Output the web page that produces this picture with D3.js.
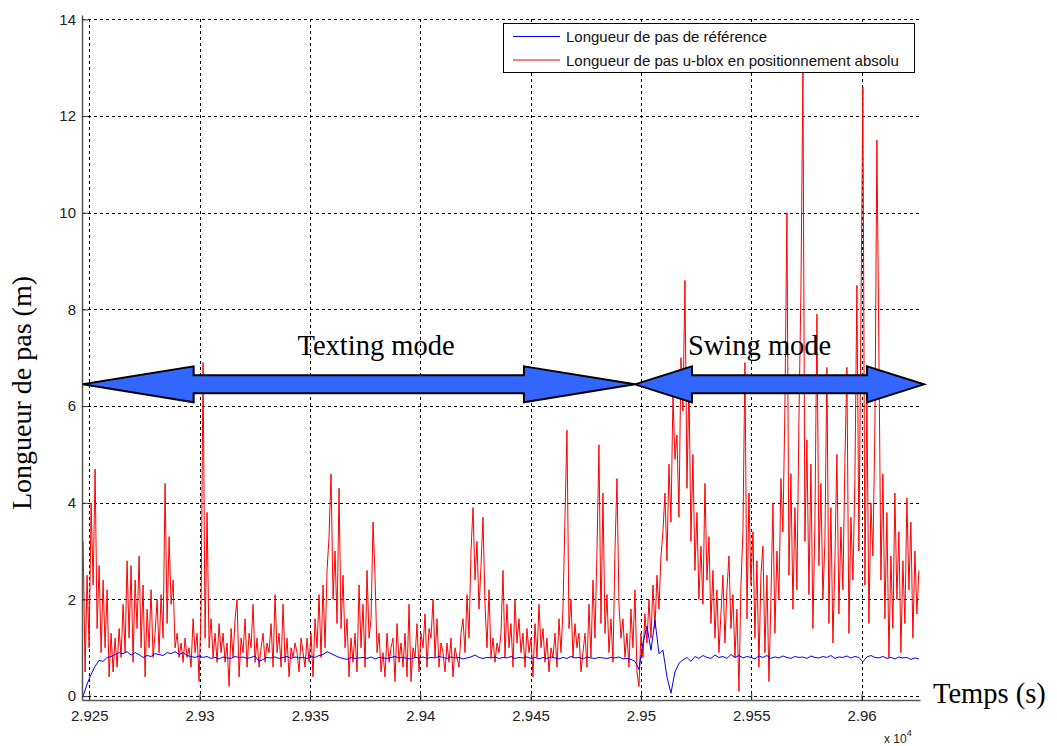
<!DOCTYPE html>
<html><head><meta charset="utf-8">
<script src="https://cdn.jsdelivr.net/npm/d3@7"></script>
<style>body{margin:0;background:#fff}</style>
</head><body><svg id="c" width="1057" height="746"></svg>
<script>
// ---- data (time in units of 10^4 s) ----
const xTicks = [2.925, 2.93, 2.935, 2.94, 2.945, 2.95, 2.955, 2.96];
const xTickLabels = ["2.925", "2.93", "2.935", "2.94", "2.945", "2.95", "2.955", "2.96"];
const yTicks = [0, 2, 4, 6, 8, 10, 12, 14];
const seriesNames = ["Longueur de pas de référence", "Longueur de pas u-blox en positionnement absolu"];

const redStart = 2.92472, redEnd = 2.96260;
const redValues = [
  3.2,0.5,2.5,1.0,4.0,2.3,4.7,1.4,2.7,0.9,
  2.4,1.0,2.2,0.4,1.3,0.5,1.2,0.6,1.4,0.8,
  1.9,0.9,2.8,1.2,2.7,0.7,2.4,1.4,2.9,1.0,
  2.3,0.4,1.8,1.0,2.2,0.8,1.3,2.0,0.9,2.1,
  1.2,4.4,1.5,3.3,1.9,2.4,1.0,1.3,0.8,1.1,
  0.7,1.2,0.8,1.0,0.6,1.6,0.9,1.3,0.3,1.8,
  6.9,1.2,3.8,1.0,1.6,0.8,1.3,0.7,1.5,0.9,
  1.3,0.7,1.1,0.2,1.4,0.8,1.6,2.0,0.4,1.2,
  0.9,1.6,0.6,1.3,1.0,1.9,0.7,1.2,0.6,1.0,
  1.3,0.7,1.1,0.9,1.5,0.6,2.1,0.9,1.3,0.6,
  1.9,0.7,1.2,0.4,1.0,0.8,1.1,0.9,0.5,1.2,
  0.9,0.6,1.2,0.7,1.3,0.4,1.6,1.0,2.1,0.8,
  2.3,1.0,2.6,3.3,4.6,2.0,3.0,1.5,4.3,1.4,
  2.5,1.0,1.6,0.4,1.2,0.7,1.3,0.5,2.3,1.0,
  1.9,0.6,2.6,1.2,1.6,3.6,2.5,0.9,1.3,0.5,
  0.9,0.4,1.3,0.7,1.0,1.2,0.3,1.5,0.7,1.1,
  0.6,1.3,0.4,1.9,0.3,1.0,0.8,1.5,0.5,1.3,
  1.0,1.7,0.6,1.4,1.2,2.0,0.8,1.6,0.6,1.1,
  0.9,0.5,1.1,0.7,1.2,0.4,1.0,0.8,0.6,1.3,
  1.6,0.9,2.1,1.2,3.0,3.9,2.4,3.2,1.8,2.7,
  3.7,1.9,1.0,2.2,0.8,1.2,0.7,1.1,0.9,1.3,
  2.6,0.8,1.9,1.0,1.5,0.6,2.0,1.1,1.6,0.9,
  1.3,0.6,1.4,0.9,1.2,0.4,1.5,0.8,1.9,1.0,
  1.4,0.7,1.2,0.5,1.0,0.8,1.3,0.6,1.6,0.9,
  1.8,3.7,5.5,1.4,2.0,0.8,1.5,1.0,1.3,0.5,
  0.9,1.3,0.6,1.9,0.8,2.4,1.2,3.0,5.2,1.5,
  4.2,1.3,2.1,0.9,1.6,0.7,3.0,4.5,1.9,1.2,
  1.6,0.8,1.3,0.6,1.8,1.0,2.2,0.5,0.2,1.3,
  0.8,1.7,1.1,2.0,1.2,2.3,1.4,2.5,1.8,2.9,
  3.4,4.2,2.8,4.8,3.6,6.2,4.9,5.4,3.7,7.0,
  5.9,8.6,4.3,6.5,3.2,5.0,2.6,3.8,2.0,3.1,
  1.9,4.4,2.4,3.3,1.5,2.6,1.2,2.2,0.9,1.7,
  2.5,1.1,2.2,2.9,1.4,2.1,0.8,1.8,0.1,2.3,
  3.4,6.9,1.6,4.2,2.3,3.4,1.2,2.8,0.6,2.5,
  3.1,0.9,2.5,0.3,2.0,4.0,1.3,3.0,2.0,4.5,
  3.4,6.0,10.0,2.5,4.6,1.8,3.9,2.2,5.7,8.4,
  12.9,3.2,5.3,2.1,4.8,1.4,3.6,7.9,2.7,4.4,
  2.0,3.2,6.8,1.5,3.9,1.1,2.8,5.0,1.7,3.5,
  2.2,4.9,6.8,1.3,3.7,2.4,4.5,8.5,3.0,7.8,
  12.6,2.3,6.2,1.5,4.0,2.9,5.6,11.5,7.1,2.4,
  4.6,1.6,3.8,0.8,2.9,1.4,4.2,2.0,3.4,0.9,
  2.8,1.5,4.1,2.2,3.6,1.2,3.0,1.7,2.6
];

const blueStart = 2.92472, blueEnd = 2.96260;
const blueValues = [
  0.00,0.25,0.45,0.62,0.74,0.72,0.80,0.82,0.86,0.90,
  0.88,0.92,0.85,0.90,0.86,0.80,0.84,0.82,0.88,0.86,
  0.84,0.90,0.88,0.92,0.86,0.90,0.84,0.82,0.80,0.83,
  0.80,0.82,0.78,0.80,0.77,0.81,0.79,0.78,0.82,0.80,
  0.81,0.78,0.80,0.83,0.72,0.76,0.80,0.79,0.81,0.78,
  0.80,0.82,0.78,0.81,0.79,0.80,0.78,0.82,0.80,0.84,
  0.86,0.92,0.88,0.84,0.80,0.78,0.76,0.80,0.78,0.79,
  0.80,0.78,0.81,0.77,0.80,0.79,0.78,0.80,0.82,0.79,
  0.80,0.78,0.77,0.80,0.79,0.81,0.78,0.80,0.79,0.82,
  0.80,0.78,0.81,0.79,0.80,0.77,0.79,0.81,0.85,0.80,
  0.78,0.80,0.79,0.81,0.78,0.80,0.79,0.82,0.78,0.80,
  0.79,0.81,0.78,0.80,0.77,0.80,0.78,0.81,0.79,0.77,
  0.80,0.78,0.82,0.79,0.80,0.77,0.81,0.79,0.78,0.80,
  0.79,0.78,0.80,0.79,0.81,0.77,0.78,0.76,0.72,0.55,
  1.10,1.45,0.95,1.57,0.88,0.95,0.40,0.06,0.50,0.68,
  0.75,0.80,0.72,0.82,0.78,0.84,0.80,0.78,0.85,0.80,
  0.82,0.78,0.86,0.80,0.84,0.79,0.82,0.80,0.77,0.83,
  0.80,0.84,0.78,0.81,0.79,0.83,0.80,0.78,0.82,0.80,
  0.81,0.78,0.83,0.80,0.79,0.82,0.80,0.84,0.78,0.81,
  0.80,0.83,0.79,0.82,0.80,0.71,0.81,0.84,0.80,0.79,
  0.82,0.78,0.80,0.77,0.81,0.79,0.80,0.76,0.79,0.77
];

// mode annotations (data coordinates)
const modeLabels = ["Texting mode", "Swing mode"];
const modeFrom = [2.92470, 2.94973];
const modeTo = [2.94973, 2.96283];
const modeLabelX = [2.93800, 2.95538];
const arrowLevel = 6.45;
const labelLevel = 7.05;

// ---- layout ----
const svg = d3.select("#c");
const xDomain = [2.92467, 2.96265];
const yDomain = [-0.08, 14.09];
const x = d3.scaleLinear().domain(xDomain).range([82, 920]);
const y = d3.scaleLinear().domain(yDomain).range([700, 15]);
const sans = "'Liberation Sans', Arial, Helvetica, sans-serif";
const serif = "'Liberation Serif', 'Times New Roman', serif";

// grid
const grid = svg.append("g").attr("stroke", "#000").attr("stroke-width", 1)
  .attr("stroke-dasharray", "3,3").attr("fill", "none").attr("shape-rendering", "crispEdges");
grid.selectAll(".hg").data(yTicks).join("line")
  .attr("x1", x.range()[0]).attr("x2", x.range()[1])
  .attr("y1", d => Math.round(y(d)) + 0.5).attr("y2", d => Math.round(y(d)) + 0.5);
grid.selectAll(".vg").data(xTicks).join("line")
  .attr("x1", d => Math.round(x(d)) + 0.5).attr("x2", d => Math.round(x(d)) + 0.5)
  .attr("y1", y(14)).attr("y2", y.range()[0]);

// data
svg.append("clipPath").attr("id", "clip").append("rect")
  .attr("x", 82).attr("y", 15).attr("width", 838).attr("height", 685);
const redData = redValues.map((v, i) => [redStart + i * (redEnd - redStart) / (redValues.length - 1), v]);
const blueData = blueValues.map((v, i) => [blueStart + i * (blueEnd - blueStart) / (blueValues.length - 1), v]);
const line = d3.line().x(d => x(d[0])).y(d => y(d[1]));
const plot = svg.append("g").attr("clip-path", "url(#clip)");
plot.append("path").datum(redData).attr("d", line).attr("fill", "none")
  .attr("stroke", "#ff0000").attr("stroke-width", 1);
plot.append("path").datum(blueData).attr("d", line).attr("fill", "none")
  .attr("stroke", "#0000ff").attr("stroke-width", 1);

// axes
const xAxis = d3.axisBottom(x).tickValues(xTicks).tickFormat((d, i) => xTickLabels[i])
  .tickSizeInner(-6).tickSizeOuter(0).tickPadding(10);
const gx = svg.append("g").attr("transform", "translate(0,700)").call(xAxis);
const yAxis = d3.axisLeft(y).tickValues(yTicks).tickSizeInner(-6).tickSizeOuter(0).tickPadding(6);
const gy = svg.append("g").attr("transform", "translate(82,0)").call(yAxis);
[gx, gy].forEach(g => {
  g.select(".domain").attr("stroke", "#555").attr("stroke-width", 1.5);
  g.selectAll(".tick line").attr("stroke", "#333");
  g.selectAll("text").attr("font-family", sans).attr("font-size", 15).attr("fill", "#222");
});

// exponent label
const ex = svg.append("text").attr("x", 884).attr("y", 743).attr("font-family", sans)
  .attr("font-size", 12).attr("fill", "#222");
ex.append("tspan").text("x 10");
ex.append("tspan").attr("font-size", 9).attr("dy", -7).text("4");

// axis titles
svg.append("text").attr("transform", "translate(31,393) rotate(-90)").attr("text-anchor", "middle")
  .attr("font-family", serif).attr("font-size", 28).attr("fill", "#000").text("Longueur de pas (m)");
svg.append("text").attr("x", 933).attr("y", 703).attr("font-family", serif)
  .attr("font-size", 28.5).attr("fill", "#000").text("Temps (s)");

// arrows
function arrowPts(x1, x2, yc, h) {
  const hh = 18, sh = 9;
  return [[x1, yc], [x1 + h, yc - hh], [x1 + h, yc - sh], [x2 - h, yc - sh], [x2 - h, yc - hh], [x2, yc],
    [x2 - h, yc + hh], [x2 - h, yc + sh], [x1 + h, yc + sh], [x1 + h, yc + hh]];
}
const headLen = [111, 57];
modeLabels.forEach((lab, i) => {
  const x1 = x(modeFrom[i]), x2 = x(modeTo[i]);
  svg.append("polygon").attr("points", arrowPts(x1, x2, y(arrowLevel), headLen[i]).map(p => p.join(",")).join(" "))
    .attr("fill", "#3366ff").attr("stroke", "#000").attr("stroke-width", 2).attr("stroke-linejoin", "miter");
  svg.append("text").attr("x", x(modeLabelX[i])).attr("y", y(labelLevel)).attr("text-anchor", "middle")
    .attr("font-family", serif).attr("font-size", 28.5).attr("fill", "#000").text(lab);
});

// legend
const lg = svg.append("g");
lg.append("rect").attr("x", 503.5).attr("y", 23.5).attr("width", 411).attr("height", 49)
  .attr("fill", "#fff").attr("stroke", "#000").attr("stroke-width", 1);
const legColors = ["#0000ff", "#ff0000"];
seriesNames.forEach((n, i) => {
  const yy = 36.5 + i * 23.5;
  lg.append("line").attr("x1", 513).attr("x2", 560).attr("y1", yy).attr("y2", yy)
    .attr("stroke", legColors[i]).attr("stroke-width", 1);
  lg.append("text").attr("x", 566).attr("y", yy + 5.5).attr("font-family", sans).attr("font-size", 15)
    .attr("fill", "#111").text(n);
});
</script></body></html>
